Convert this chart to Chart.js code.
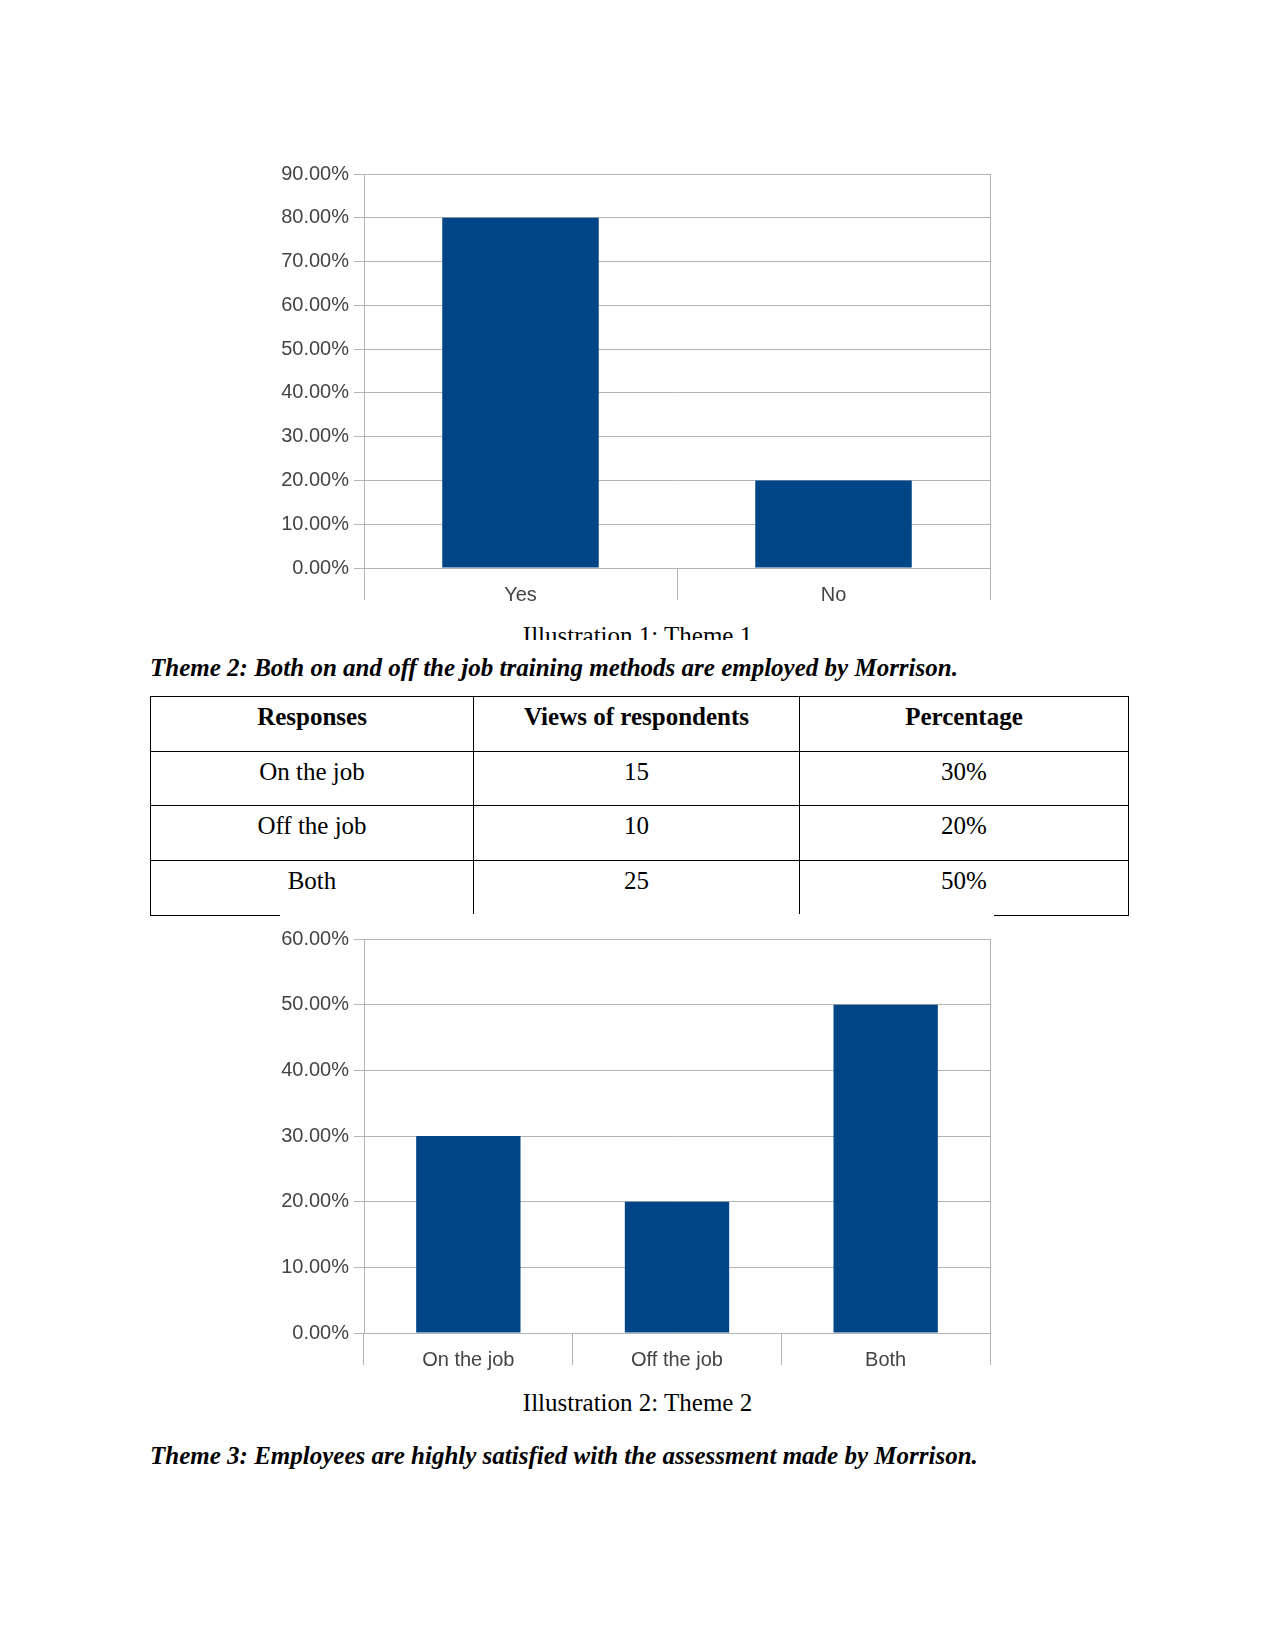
<!DOCTYPE html>
<html><head><meta charset="utf-8">
<script src="https://cdn.jsdelivr.net/npm/chart.js@4.4.0/dist/chart.umd.min.js"></script>
<style>
html,body{margin:0;padding:0;background:#fff;}
body{width:1275px;height:1651px;position:relative;overflow:hidden;font-family:"Liberation Serif","Times New Roman",serif;color:#000;}
.abs{position:absolute;}
.heading{left:150px;font-weight:bold;font-style:italic;font-size:25px;line-height:30px;white-space:nowrap;}
.caption{left:0;width:1275px;text-align:center;font-size:25px;line-height:30px;white-space:nowrap;overflow:hidden;}
.chartbox{background:#fff;z-index:2;}
table{position:absolute;left:150px;top:696px;border-collapse:collapse;table-layout:fixed;width:978px;font-size:25px;z-index:1;}
td,th{border:1px solid #000;padding:5px 0 0 0;vertical-align:top;text-align:center;line-height:30px;box-sizing:border-box;}
th{font-weight:bold;}
</style>
</head>
<body>
<div class="abs chartbox" style="left:280px;top:150px;width:714px;height:460px;"><canvas id="c1" width="714" height="460"></canvas></div>
<div class="abs caption" style="top:621px;height:19px;">Illustration 1: Theme 1</div>
<div class="abs heading" style="top:653px;">Theme 2: Both on and off the job training methods are employed by Morrison.</div>
<table id="tbl"><colgroup><col style="width:323px"><col style="width:326px"><col style="width:329px"></colgroup><thead></thead><tbody></tbody></table>
<div class="abs chartbox" style="left:280px;top:914px;width:714px;height:461px;"><canvas id="c2" width="714" height="461"></canvas></div>
<div class="abs caption" style="top:1388px;height:30px;">Illustration 2: Theme 2</div>
<div class="abs heading" style="top:1441px;">Theme 3: Employees are highly satisfied with the assessment made by Morrison.</div>
<script>
// ---- data ----
const themeOneLabels = ['Yes', 'No'];
const themeOneValues = [80, 20];
const themeOneAxis = {min: 0, max: 90, step: 10};

const themeTwoLabels = ['On the job', 'Off the job', 'Both'];
const themeTwoValues = [30, 20, 50];
const themeTwoAxis = {min: 0, max: 60, step: 10};

const tableHeaders = ['Responses', 'Views of respondents', 'Percentage'];
const tableResponses = ['On the job', 'Off the job', 'Both'];
const tableViews = [15, 10, 25];
const tablePercentages = ['30%', '20%', '50%'];
const tableRowHeights = [55, 54, 55, 55];

// ---- table ----
(function(){
  const thead = document.querySelector('#tbl thead');
  const tbody = document.querySelector('#tbl tbody');
  const hr = document.createElement('tr');
  hr.style.height = tableRowHeights[0] + 'px';
  tableHeaders.forEach(h => { const th = document.createElement('th'); th.textContent = h; hr.appendChild(th); });
  thead.appendChild(hr);
  tableResponses.forEach((r, i) => {
    const tr = document.createElement('tr');
    tr.style.height = tableRowHeights[i + 1] + 'px';
    [r, String(tableViews[i]), tablePercentages[i]].forEach(v => {
      const td = document.createElement('td'); td.textContent = v; tr.appendChild(td);
    });
    tbody.appendChild(tr);
  });
})();

// ---- charts ----
const GRID = '#b3b3b3';
const LABEL = '#444444';
const BAR = '#004586';
function makeChart(id, labels, values, axis, padTop){
  return new Chart(document.getElementById(id), {
    type: 'bar',
    data: {labels: labels, datasets: [{data: values, backgroundColor: BAR, borderWidth: 0, categoryPercentage: 1, barPercentage: 0.5}]},
    options: {
      responsive: false, animation: false, maintainAspectRatio: false,
      layout: {padding: {top: padTop, bottom: 2, left: 0, right: 4}},
      plugins: {legend: {display: false}, tooltip: {enabled: false}},
      scales: {
        x: {
          grid: {offset: true, drawOnChartArea: false, drawTicks: true, tickLength: 32, color: GRID, lineWidth: 1},
          border: {display: true, color: GRID},
          ticks: {padding: -17, font: {family: 'Liberation Sans', size: 20}, color: LABEL, maxRotation: 0, autoSkip: false},
          afterFit: s => { s.height = 40; }
        },
        y: {
          min: axis.min, max: axis.max,
          grid: {color: GRID, tickLength: 10, lineWidth: 1},
          border: {display: true, color: GRID},
          ticks: {stepSize: axis.step, padding: 5, font: {family: 'Liberation Sans', size: 20}, color: LABEL,
                  callback: v => Number(v).toFixed(2) + '%'},
          afterFit: s => { s.width = 84; }
        },
        yRight: {
          position: 'right', min: axis.min, max: axis.max, display: true,
          grid: {drawOnChartArea: false, drawTicks: false},
          border: {display: true, color: GRID},
          ticks: {display: false},
          afterFit: s => { s.width = 0; }
        }
      }
    }
  });
}
makeChart('c1', themeOneLabels, themeOneValues, themeOneAxis, 24);
makeChart('c2', themeTwoLabels, themeTwoValues, themeTwoAxis, 25);
</script>
</body></html>
